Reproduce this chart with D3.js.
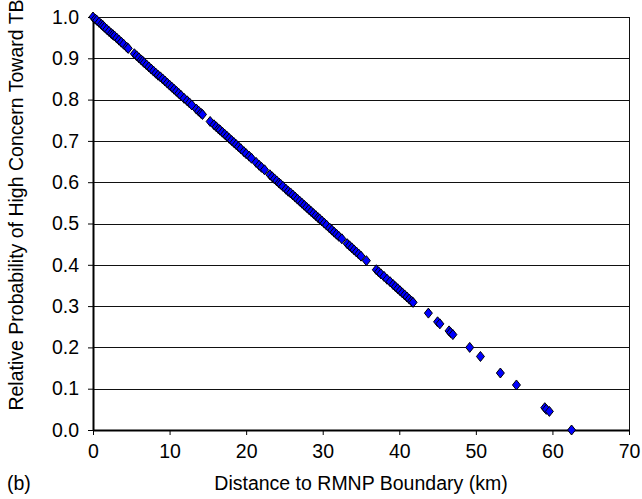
<!DOCTYPE html>
<html>
<head>
<meta charset="utf-8">
<script src="https://cdn.jsdelivr.net/npm/d3@7"></script>
<style>
  html, body { margin: 0; padding: 0; background: #fff; }
  svg { display: block; font-family: "Liberation Sans", Arial, sans-serif; }
</style>
</head>
<body>
<svg id="chart" width="642" height="499"></svg>
<script>
const distance = [
  0.0, 0.3, 0.5, 0.8, 1.1, 1.3, 1.5, 1.8, 2.1, 2.4, 2.6, 2.8, 3.1, 3.4, 3.7, 4.0, 4.4, 4.6,
  5.4, 5.7, 6.0, 6.3, 6.5, 6.7, 7.0, 7.3, 7.6, 7.9, 8.2, 8.5, 8.8, 9.1, 9.4, 9.7, 10.0, 10.3, 10.6, 10.9, 11.2, 11.5,
  11.9, 12.3, 12.6, 12.9,
  13.5, 13.8, 14.1, 14.3, 15.3,
  15.8, 16.1, 16.4, 16.6, 16.9, 17.2, 17.5, 17.8, 18.1, 18.4, 18.7, 19.0, 19.3, 19.7, 20.0, 20.4, 20.7,
  21.3, 21.7, 22.0, 22.4,
  23.1, 23.4, 23.7, 24.0, 24.3, 24.5, 24.8,
  25.2, 25.5, 25.8, 26.1, 26.4, 26.7, 27.0, 27.3, 27.6, 27.9, 28.2, 28.5, 28.8, 29.1, 29.4, 29.6, 29.9, 30.2, 30.5,
  30.9, 31.2, 31.5, 31.8, 32.1, 32.5,
  33.2, 33.5, 33.8, 34.1, 34.4, 34.7, 35.0, 35.7,
  37.0, 37.3, 37.6, 38.0, 38.4, 38.8, 39.2, 39.5, 39.8,
  40.1, 40.4, 40.7, 41.0, 41.3, 41.6, 41.8,
  43.8, 45.0, 45.3, 46.5, 46.7, 47.0, 49.2, 50.6, 53.2, 55.3, 59.0, 59.2, 59.6, 62.5
];
const probability = [
  1.000, 0.995, 0.992, 0.987, 0.982, 0.979, 0.975, 0.970, 0.965, 0.960, 0.957, 0.954, 0.949, 0.944, 0.939, 0.934, 0.927, 0.924,
  0.911, 0.906, 0.901, 0.896, 0.893, 0.889, 0.884, 0.879, 0.874, 0.869, 0.864, 0.859, 0.855, 0.850, 0.845, 0.840, 0.835, 0.830, 0.825, 0.820, 0.815, 0.810,
  0.803, 0.797, 0.792, 0.787,
  0.777, 0.772, 0.767, 0.764, 0.747,
  0.739, 0.734, 0.729, 0.726, 0.721, 0.716, 0.711, 0.706, 0.701, 0.696, 0.691, 0.686, 0.681, 0.674, 0.669, 0.663, 0.658,
  0.648, 0.641, 0.636, 0.630,
  0.618, 0.613, 0.608, 0.603, 0.598, 0.595, 0.590,
  0.583, 0.578, 0.574, 0.569, 0.564, 0.559, 0.554, 0.549, 0.544, 0.539, 0.534, 0.529, 0.524, 0.519, 0.514, 0.511, 0.506, 0.501, 0.496,
  0.489, 0.484, 0.479, 0.474, 0.469, 0.463,
  0.451, 0.446, 0.441, 0.436, 0.431, 0.426, 0.421, 0.410,
  0.388, 0.383, 0.378, 0.372, 0.365, 0.359, 0.352, 0.347, 0.342,
  0.337, 0.332, 0.327, 0.322, 0.317, 0.312, 0.309,
  0.283, 0.262, 0.257, 0.240, 0.236, 0.231, 0.200, 0.178, 0.138, 0.109, 0.054, 0.050, 0.045, 0.000
];
const xTicks = [0, 10, 20, 30, 40, 50, 60, 70];
const yTicks = [0.0, 0.1, 0.2, 0.3, 0.4, 0.5, 0.6, 0.7, 0.8, 0.9, 1.0];
const xTitle = "Distance to RMNP Boundary (km)";
const yTitle = "Relative Probability of High Concern Toward TB";
const panelLabel = "(b)";

const W = 642, H = 499;
const margin = {left: 93, right: 13, top: 17, bottom: 69};
const FONT = "19.5px";
const svg = d3.select("#chart");

const x = d3.scaleLinear().domain([0, 70]).range([margin.left, W - margin.right]);
const y = d3.scaleLinear().domain([0, 1]).range([H - margin.bottom, margin.top]);

// gridlines
svg.append("g")
  .selectAll("line").data(yTicks.filter(d => d > 0)).join("line")
  .attr("x1", x(0)).attr("x2", x(70))
  .attr("y1", d => Math.round(y(d)) + 0.5).attr("y2", d => Math.round(y(d)) + 0.5)
  .attr("stroke", "#111").attr("stroke-width", 1);

// right border
svg.append("line")
  .attr("x1", Math.round(x(70)) + 0.5).attr("x2", Math.round(x(70)) + 0.5)
  .attr("y1", y(1)).attr("y2", y(0))
  .attr("stroke", "#111").attr("stroke-width", 1);

// axes
const xAxis = d3.axisBottom(x).tickValues(xTicks).tickFormat(d3.format("d")).tickSize(5).tickSizeOuter(0).tickPadding(9);
const yAxis = d3.axisLeft(y).tickValues(yTicks).tickFormat(d3.format(".1f")).tickSize(5).tickSizeOuter(0).tickPadding(9);

const gx = svg.append("g").attr("transform", `translate(0,${y(0)})`).call(xAxis);
const gy = svg.append("g").attr("transform", `translate(${x(0)},0)`).call(yAxis);
[gx, gy].forEach(g => {
  g.select(".domain").attr("stroke", "#000").attr("stroke-width", 2);
  g.selectAll(".tick line").attr("stroke", "#000").attr("stroke-width", 1);
  g.selectAll(".tick text").attr("fill", "#000").style("font-size", FONT)
    .style("font-family", '"Liberation Sans", Arial, sans-serif');
});

// points
const pts = distance.map((d, i) => ({d, p: probability[i]}));
const diamond = "M0,-5L4,0L0,5L-4,0Z";
svg.append("g")
  .selectAll("path").data(pts).join("path")
  .attr("d", diamond)
  .attr("transform", d => `translate(${x(d.d)},${y(d.p)})`)
  .attr("fill", "#0000ff").attr("stroke", "#000").attr("stroke-width", 1);

// titles
svg.append("text")
  .attr("x", (x(0) + x(70)) / 2).attr("y", 490)
  .attr("text-anchor", "middle").style("font-size", FONT).attr("fill", "#000")
  .text(xTitle);
svg.append("text")
  .attr("transform", `translate(23,205) rotate(-90)`)
  .attr("text-anchor", "middle").style("font-size", FONT).attr("fill", "#000")
  .text(yTitle);
svg.append("text")
  .attr("x", 7).attr("y", 490)
  .style("font-size", FONT).attr("fill", "#000")
  .text(panelLabel);
</script>
</body>
</html>
